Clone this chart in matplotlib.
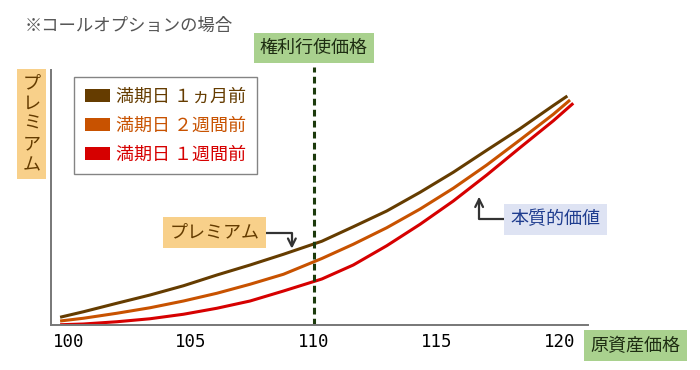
import numpy as np
import matplotlib
matplotlib.use('Agg')
import matplotlib.pyplot as plt
from matplotlib.patches import Patch

plt.rcParams['font.family'] = ['Noto Sans CJK JP', 'DejaVu Sans']

# data (underlying price vs option premium)
strike = 110
x_ticks = [100, 105, 110, 115, 120]

price = [99.67, 100.62, 101.98, 103.33, 104.69, 106.05, 107.40, 108.76, 110.32,
         111.60, 112.96, 114.32, 115.67, 117.03, 118.38, 119.74]

month_x = price + [120.31]
month_y = [0.31, 0.53, 0.87, 1.20, 1.57, 2.00, 2.40, 2.83, 3.35,
           3.93, 4.56, 5.31, 6.11, 6.99, 7.85, 8.78, 9.16]
week2_x = price + [120.42]
week2_y = [0.16, 0.27, 0.47, 0.69, 0.96, 1.27, 1.63, 2.03, 2.66,
           3.23, 3.89, 4.64, 5.47, 6.40, 7.40, 8.43, 9.00]
week1_x = price + [120.55]
week1_y = [0.01, 0.04, 0.13, 0.25, 0.43, 0.67, 0.96, 1.36, 1.84,
           2.40, 3.17, 4.03, 4.96, 6.00, 7.09, 8.17, 8.87]

labels = ['満期日 １ヵ月前', '満期日 ２週間前', '満期日 １週間前']
colors = ['#653c00', '#c85200', '#d60000']

brown = '#653c00'
orange_box = '#f8d08a'
green_box = '#a9d18e'
green_txt = '#1e2d12'
blue_box = '#dee3f3'
blue_txt = '#1f3d8f'

fig = plt.figure(figsize=(7, 3.7), dpi=100)
ax = fig.add_axes([51/700, 45/370, 537/700, 255/370])

for xs, ys, c in zip([month_x, week2_x, week1_x], [month_y, week2_y, week1_y], colors):
    ax.plot(xs, ys, color=c, linewidth=2.2, solid_capstyle='butt')

ax.axvline(strike, ymin=0, ymax=1.01, color='#1c3a0c', linewidth=2.2,
           linestyle=(0, (2.2, 1.4)), clip_on=False)

ax.set_xlim(99.30, 121.15)
ax.set_ylim(0, 10.2)
ax.set_xticks(x_ticks)
ax.set_xticklabels([str(t) for t in x_ticks], family='DejaVu Sans Mono', fontsize=12.5)
ax.set_yticks([])
ax.tick_params(axis='x', length=0, pad=5.5)
for s in ['top', 'right']:
    ax.spines[s].set_visible(False)
for s in ['left', 'bottom']:
    ax.spines[s].set_color('#777777')
    ax.spines[s].set_linewidth(1.4)

# legend
handles = [Patch(facecolor=c, edgecolor='none') for c in colors]
leg = fig.legend(handles, labels, loc='upper left', bbox_to_anchor=(74/700, 1-77/370),
                 borderaxespad=0, fontsize=13, handlelength=1.4, handleheight=0.75,
                 handletextpad=0.35, labelspacing=0.6, borderpad=0.6,
                 fancybox=False, frameon=True)
leg.get_frame().set_edgecolor('#666666')
leg.get_frame().set_linewidth(1.0)
for t, c in zip(leg.get_texts(), colors):
    t.set_color(c)

# texts
fig.text(25/700, 1-26/370, '※コールオプションの場合', fontsize=12.5, color='#555555',
         ha='left', va='center')
fig.text(31.7/700, 1-124/370, 'プ\nレ\nミ\nア\nム', fontsize=13, color=brown,
         ha='center', va='center', linespacing=1.18,
         bbox=dict(boxstyle='square,pad=0.3', fc=orange_box, ec='none'))
ax.text(strike, 1.086, '権利行使価格', transform=ax.get_xaxis_transform(),
        fontsize=13, color=green_txt, ha='center', va='center',
        bbox=dict(boxstyle='square,pad=0.35', fc=green_box, ec='none'))
fig.text(635.7/700, 1-345.8/370, '原資産価格', fontsize=13, color=green_txt,
         ha='center', va='center',
         bbox=dict(boxstyle='square,pad=0.35', fc=green_box, ec='none'))

arrow = dict(arrowstyle='->', color='#333333', lw=1.6, mutation_scale=14,
             connectionstyle='angle,angleA=0,angleB=90,rad=0', shrinkA=0, shrinkB=0)
ax.annotate('プレミアム', xy=(109.1, 3.05), xytext=(214.5/700, 1-232.5/370),
            textcoords='figure fraction', fontsize=13, color=brown,
            ha='center', va='center',
            bbox=dict(boxstyle='square,pad=0.35', fc=orange_box, ec='none'),
            arrowprops=arrow)
ax.annotate('本質的価値', xy=(116.72, 5.13), xytext=(555.5/700, 1-219.3/370),
            textcoords='figure fraction', fontsize=13, color=blue_txt,
            ha='center', va='center',
            bbox=dict(boxstyle='square,pad=0.35', fc=blue_box, ec='none'),
            arrowprops=arrow)

plt.savefig('out.png', dpi=100)
